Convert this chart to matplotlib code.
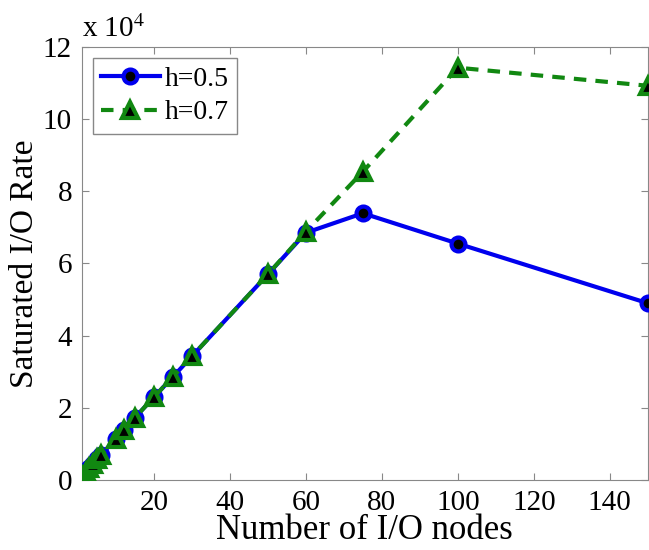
import matplotlib
matplotlib.use("Agg")
import matplotlib.pyplot as plt
from matplotlib.ticker import FuncFormatter

nodes = [1, 2, 3, 4, 5, 6, 10, 12, 15, 20, 25, 30, 50, 60, 75, 100, 150]
rate_h05 = [1150, 2300, 3450, 4600, 5750, 6900, 11500, 13800, 17300, 23000,
            28600, 34300, 57000, 68500, 73900, 65500, 49000]
rate_h07 = [1150, 2300, 3450, 4600, 5750, 6900, 11500, 13800, 17300, 23000,
            28600, 34300, 57000, 68800, 85400, 114200, 109200]
xticks = [20, 40, 60, 80, 100, 120, 140]
yticks = [0, 20000, 40000, 60000, 80000, 100000, 120000]

plt.rcParams['font.family'] = ['Liberation Serif', 'DejaVu Serif']
plt.rcParams['mathtext.fontset'] = 'stix'

fig = plt.figure(figsize=(6.49, 5.5), dpi=100)
ax = fig.add_axes([0.126, 0.127, 0.872, 0.788])

ax.plot(nodes, rate_h05, '-', color='#0000ee', lw=3, marker='o', ms=10,
        mfc='black', mec='#0000ee', mew=3, label='h=0.5', zorder=3)
ax.plot(nodes, rate_h07, '--', color='#118811', lw=3, marker='^', ms=11,
        mfc='black', mec='#118811', mew=3, label='h=0.7', dashes=(3, 2.2), zorder=4)

ax.set_xlim(1, 150)
ax.set_ylim(0, 120000)
ax.set_xticks(xticks)
ax.set_yticks(yticks)
ax.yaxis.set_major_formatter(FuncFormatter(lambda v, p: f"{v/1e4:g}"))
ax.tick_params(direction='in', top=True, right=True, labelsize=21, length=5,
               color='#888888', pad=7)
for s in ax.spines.values():
    s.set_color('#888888')

ax.set_xlabel('Number of I/O nodes', fontsize=25, labelpad=-1)
ax.set_ylabel('Saturated I/O Rate', fontsize=24, labelpad=2)
ax.text(0.0, 1.008, r'x 10$^4$', transform=ax.transAxes, fontsize=21,
        ha='left', va='bottom')

leg = ax.legend(loc='upper left', fontsize=20, handlelength=2.1,
                borderpad=0.3, labelspacing=0.3, handletextpad=0.2,
                fancybox=False, framealpha=1, borderaxespad=0.4)
leg.get_frame().set_edgecolor('#888888')

fig.savefig('out.png', dpi=100)
